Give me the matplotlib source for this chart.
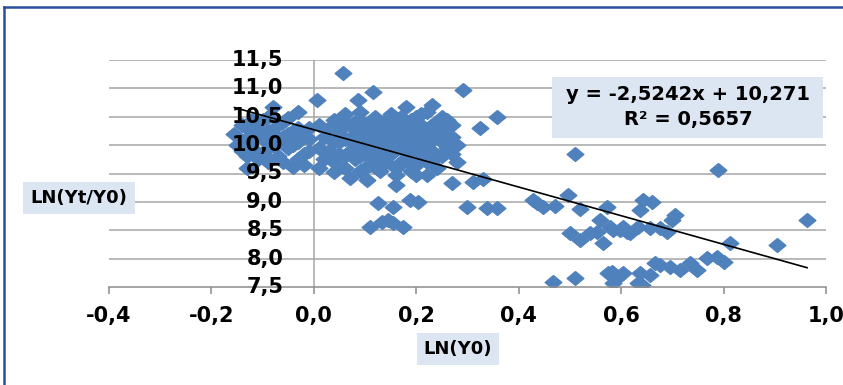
import matplotlib
matplotlib.use("Agg")
import matplotlib.pyplot as plt
from matplotlib.lines import Line2D
from matplotlib.patches import Rectangle
import numpy as np

# LN(Y0) vs LN(Yt/Y0) observations
ln_y0 = [
    -0.155, -0.14, -0.14, -0.13, -0.13, -0.12, -0.12, -0.12, -0.11, -0.11,
    -0.10, -0.10, -0.09, -0.09, -0.08, -0.08, -0.07, -0.07, -0.06, -0.06,
    -0.05, -0.05, -0.04, -0.04, -0.03, -0.03, -0.02, -0.02, -0.01, -0.01,
    -0.15, -0.14, -0.13, -0.11, -0.10, -0.09, -0.08, -0.07, -0.06, -0.05,
    -0.04, -0.03, -0.02, -0.01, -0.13, -0.09, -0.03,
    0.006, 0.057,
    0.01, 0.01, 0.01, 0.02, 0.02, 0.04, 0.04, 0.04, 0.04, 0.05, 0.05,
    0.06, 0.06, 0.06, 0.07, 0.07, 0.07, 0.08, 0.08, 0.09, 0.09, 0.09, 0.09,
    0.10, 0.10, 0.10, 0.11, 0.11, 0.12, 0.12, 0.12, 0.13, 0.13, 0.13,
    0.14, 0.14, 0.15, 0.15, 0.15, 0.16, 0.16, 0.16, 0.16, 0.17, 0.17,
    0.18, 0.18, 0.18, 0.19, 0.19, 0.19, 0.20, 0.20, 0.20, 0.20, 0.21, 0.21,
    0.22, 0.22, 0.22, 0.22, 0.23, 0.23, 0.23, 0.24, 0.24, 0.25, 0.25, 0.25,
    0.26, 0.26, 0.27, 0.27, 0.28, 0.28,
    0.03, 0.03, 0.05, 0.05, 0.06, 0.08, 0.08, 0.09, 0.10, 0.11, 0.11,
    0.12, 0.13, 0.14, 0.14, 0.15, 0.16, 0.17, 0.17, 0.18, 0.18, 0.19,
    0.20, 0.21, 0.21, 0.22, 0.23, 0.24, 0.24, 0.25, 0.26, 0.26, 0.27,
    0.27, 0.12, 0.19,
    0.086, 0.116, 0.291, 0.325, 0.358, 0.31, 0.33, 0.104,
    0.125, 0.155, 0.188, 0.203, 0.299, 0.338, 0.358,
    0.11, 0.133, 0.155, 0.174, 0.145,
    0.428, 0.436, 0.447, 0.471, 0.497, 0.51, 0.52, 0.573, 0.643, 0.637,
    0.553, 0.559, 0.50, 0.52, 0.54, 0.565, 0.578, 0.585, 0.598, 0.604,
    0.612, 0.617, 0.633, 0.657, 0.676, 0.69, 0.70, 0.705, 0.66, 0.789,
    0.963, 0.813, 0.905,
    0.467, 0.51, 0.575, 0.582, 0.592, 0.604, 0.585, 0.637, 0.641, 0.633,
    0.657, 0.666, 0.676, 0.696, 0.715, 0.735, 0.748, 0.768, 0.787, 0.80,
]
ln_growth = [
    10.20, 10.05, 9.90, 10.30, 9.60, 9.95, 10.15, 10.45, 10.40, 9.75,
    10.10, 9.85, 10.25, 10.50, 10.67, 10.00, 9.80, 10.35, 10.15, 9.70,
    10.48, 9.95, 10.25, 9.62, 10.58, 10.05, 9.65, 9.85, 10.30, 10.10,
    10.00, 10.35, 10.12, 10.25, 10.45, 9.95, 10.20, 10.05, 10.40, 10.20,
    10.00, 10.30, 10.15, 9.90, 9.80, 9.70, 9.75,
    10.79, 11.27,
    10.35, 9.95, 9.60, 10.15, 9.75, 10.45, 10.05, 9.70, 9.52, 10.25, 9.85,
    10.55, 10.10, 9.60, 10.35, 9.90, 9.42, 10.20, 9.75, 10.58, 10.45, 10.00, 9.55,
    10.30, 9.85, 9.60, 10.15, 9.65, 10.50, 10.00, 9.80, 10.35, 9.55, 9.90,
    10.20, 9.70, 10.55, 10.05, 9.85, 10.40, 9.60, 9.30, 9.47, 10.25, 9.95,
    10.67, 10.10, 9.75, 10.45, 9.90, 9.55, 10.30, 10.49, 9.65, 9.47, 10.15, 9.85,
    10.58, 10.00, 9.70, 9.47, 10.70, 10.35, 9.90, 10.20, 9.60, 10.50, 10.05, 9.80,
    10.30, 9.95, 10.15, 9.33, 9.70, 10.00,
    10.30, 9.90, 10.45, 10.05, 9.80, 10.40, 10.00, 9.80, 10.10, 10.40, 9.95,
    10.25, 10.10, 10.45, 9.95, 10.30, 10.15, 10.50, 9.70, 10.35, 9.95, 10.20,
    10.00, 10.35, 10.55, 10.20, 10.10, 10.40, 9.80, 10.25, 10.45, 10.10, 10.35,
    9.85, 9.62, 9.65,
    10.79, 10.93, 10.97, 10.30, 10.49, 9.35, 9.40, 9.38,
    8.98, 8.91, 9.03, 9.00, 8.91, 8.89, 8.89,
    8.56, 8.64, 8.63, 8.56, 8.68,
    9.03, 8.98, 8.91, 8.93, 9.12, 9.84, 8.88, 8.91, 9.03, 8.86,
    8.47, 8.68, 8.45, 8.33, 8.45, 8.27, 8.56, 8.50, 8.50, 8.56,
    8.47, 8.45, 8.56, 8.54, 8.54, 8.47, 8.68, 8.77, 9.00, 9.56,
    8.68, 8.27, 8.24,
    7.59, 7.66, 7.75, 7.76, 7.66, 7.75, 7.57, 7.75, 7.54, 7.57,
    7.71, 7.92, 7.89, 7.85, 7.80, 7.92, 7.80, 8.01, 8.03, 7.94,
]

# linear trend reported on the chart
slope = -2.5242
intercept = 10.271
r_squared = 0.5657

x_ticks = [-0.4, -0.2, 0.0, 0.2, 0.4, 0.6, 0.8, 1.0]
x_labels = ["-0,4", "-0,2", "0,0", "0,2", "0,4", "0,6", "0,8", "1,0"]
y_ticks = [7.5, 8.0, 8.5, 9.0, 9.5, 10.0, 10.5, 11.0, 11.5]
y_labels = ["7,5", "8,0", "8,5", "9,0", "9,5", "10,0", "10,5", "11,0", "11,5"]

W, H = 843, 385
fig = plt.figure(figsize=(W / 100, H / 100), dpi=100)
fig.patch.set_facecolor("white")

ax = fig.add_axes([109 / W, 1 - 287 / H, 717 / W, 227 / H])
ax.set_xlim(-0.4, 1.0)
ax.set_ylim(7.5, 11.5)

# horizontal gridlines and the vertical axis through x = 0
for v in y_ticks[1:]:
    ax.axhline(v, color="#a6a6a6", lw=1.1, zorder=0)
ax.axvline(0.0, color="#a6a6a6", lw=1.1, zorder=0)

for side in ["top", "right", "left"]:
    ax.spines[side].set_visible(False)
ax.spines["bottom"].set_color("#8c8c8c")
ax.spines["bottom"].set_linewidth(1.1)

ax.set_xticks(x_ticks)
ax.set_xticklabels(x_labels, fontsize=15, fontweight="bold")
ax.tick_params(axis="x", direction="out", length=5, width=1.1, color="#8c8c8c", pad=9)
ax.set_yticks([])

# diamond markers, slightly wider than tall
diamond = [(0, 1), (1.2, 0), (0, -1), (-1.2, 0), (0, 1)]
ax.plot(ln_y0, ln_growth, linestyle="none", marker=diamond, ms=12,
        color="#4f81bd", mec="#4f81bd", zorder=2)

xs = np.array([min(ln_y0), max(ln_y0)])
ax.plot(xs, slope * xs + intercept, color="black", lw=1.2, zorder=3)

# y tick labels sit next to the vertical axis, above the points
for v, lab in zip(y_ticks, y_labels):
    ax.annotate(lab, xy=(0.0, v), xytext=(-22, 0), textcoords="offset points",
                ha="right", va="center", fontsize=15, fontweight="bold",
                zorder=5, annotation_clip=False)

# equation box
fig.add_artist(Rectangle((552 / W, 1 - 138 / H), 271 / W, 61 / H,
                         transform=fig.transFigure, facecolor="#dce6f2",
                         edgecolor="none", zorder=4))
eq_text = "y = {:.4f}x + {:.3f}".format(slope, intercept).replace(".", ",")
r2_text = "R² = {:.4f}".format(r_squared).replace(".", ",")
fig.text(688 / W, 1 - 95 / H, eq_text, ha="center", va="center",
         fontsize=14, fontweight="bold", zorder=5)
fig.text(688 / W, 1 - 120 / H, r2_text, ha="center", va="center",
         fontsize=14, fontweight="bold", zorder=5)

# axis titles on shaded boxes
fig.text(79 / W, 1 - 198 / H, "LN(Yt/Y0)", ha="center", va="center",
         fontsize=13, fontweight="bold",
         bbox=dict(boxstyle="square,pad=0.4", facecolor="#dce6f2", edgecolor="none"))
fig.text(458 / W, 1 - 349 / H, "LN(Y0)", ha="center", va="center",
         fontsize=13, fontweight="bold",
         bbox=dict(boxstyle="square,pad=0.4", facecolor="#dce6f2", edgecolor="none"))

# frame lines along the top and left edge
fig.add_artist(Line2D([4 / W, 1.0], [1 - 7 / H, 1 - 7 / H], transform=fig.transFigure,
                      color="#2a4f9e", lw=1.8))
fig.add_artist(Line2D([4 / W, 4 / W], [0.0, 1 - 7 / H], transform=fig.transFigure,
                      color="#2a4f9e", lw=1.8))

fig.savefig("out.png", dpi=100, facecolor="white")
